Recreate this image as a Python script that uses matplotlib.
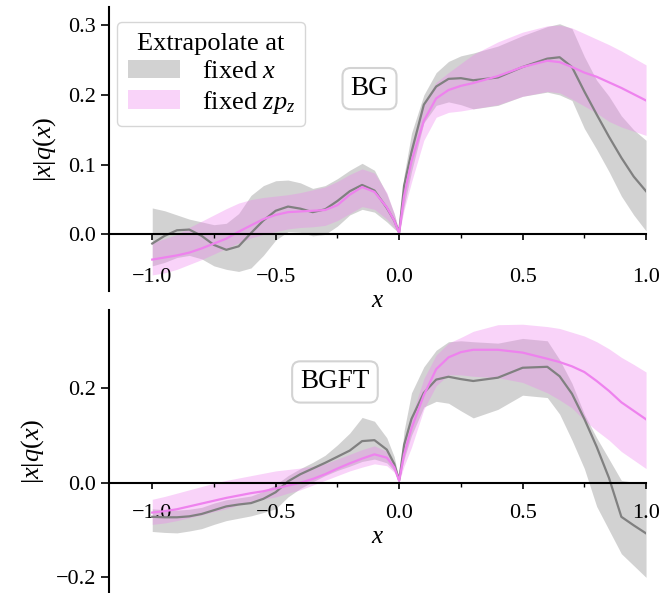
import matplotlib
matplotlib.use("Agg")
import matplotlib.pyplot as plt
from matplotlib.ticker import MultipleLocator

plt.rcParams["font.family"] = "serif"
plt.rcParams["font.serif"] = ["Liberation Serif", "DejaVu Serif"]
plt.rcParams["mathtext.fontset"] = "custom"
plt.rcParams["mathtext.rm"] = "Liberation Serif"
plt.rcParams["mathtext.it"] = "Liberation Serif:italic"
plt.rcParams["mathtext.bf"] = "Liberation Serif:bold"

x = [-1.0, -0.95, -0.9, -0.85, -0.8, -0.75, -0.7, -0.65, -0.6, -0.55,
     -0.5, -0.45, -0.4, -0.35, -0.3, -0.25, -0.2, -0.15, -0.1, -0.05,
     -0.02, 0.0, 0.02, 0.05, 0.1, 0.15, 0.2, 0.25, 0.3, 0.4,
     0.5, 0.6, 0.65, 0.7, 0.75, 0.8, 0.85, 0.9, 0.95, 1.0]

# BG, extrapolated at fixed x
bg_x_mid = [-0.013, -0.002, 0.006, 0.007, -0.002, -0.015, -0.022, -0.017, 0.002, 0.02,
            0.034, 0.040, 0.037, 0.032, 0.036, 0.048, 0.062, 0.071, 0.063, 0.038,
            0.02, 0.003, 0.07, 0.118, 0.186, 0.212, 0.223, 0.224, 0.221, 0.225,
            0.240, 0.252, 0.254, 0.24, 0.205, 0.172, 0.14, 0.11, 0.083, 0.062]
bg_x_hi = [0.038, 0.034, 0.028, 0.022, 0.018, 0.014, 0.016, 0.03, 0.056, 0.07,
           0.077, 0.078, 0.074, 0.066, 0.07, 0.08, 0.092, 0.102, 0.092, 0.058,
           0.03, 0.004, 0.085, 0.145, 0.2, 0.232, 0.248, 0.256, 0.26, 0.27,
           0.285, 0.298, 0.302, 0.295, 0.255, 0.221, 0.198, 0.17, 0.15, 0.135]
bg_x_lo = [-0.045, -0.04, -0.033, -0.03, -0.035, -0.045, -0.05, -0.053, -0.048, -0.03,
           -0.008, 0.004, 0.003, -0.002, 0.0, 0.012, 0.028, 0.036, 0.032, 0.018,
           0.008, 0.002, 0.04, 0.09, 0.16, 0.185, 0.19, 0.186, 0.18, 0.185,
           0.198, 0.204, 0.2, 0.192, 0.152, 0.122, 0.09, 0.055, 0.028, 0.005]

# BG, extrapolated at fixed z*pz
bg_z_mid = [-0.036, -0.033, -0.030, -0.026, -0.02, -0.013, -0.006, 0.004, 0.013, 0.022,
            0.028, 0.032, 0.033, 0.034, 0.035, 0.042, 0.057, 0.068, 0.061, 0.039,
            0.02, 0.002, 0.055, 0.105, 0.163, 0.195, 0.207, 0.213, 0.217, 0.227,
            0.24, 0.249, 0.247, 0.24, 0.232, 0.226, 0.218, 0.21, 0.201, 0.192]
bg_z_hi = [-0.012, -0.006, 0.0, 0.01, 0.019, 0.028, 0.037, 0.045, 0.05, 0.053,
           0.055, 0.057, 0.06, 0.064, 0.068, 0.076, 0.086, 0.094, 0.088, 0.06,
           0.03, 0.003, 0.075, 0.13, 0.19, 0.218, 0.232, 0.245, 0.258, 0.276,
           0.29, 0.299, 0.3, 0.296, 0.288, 0.28, 0.272, 0.263, 0.253, 0.243]
bg_z_lo = [-0.058, -0.055, -0.05, -0.043, -0.036, -0.028, -0.02, -0.012, -0.005, 0.0,
           0.004, 0.008, 0.01, 0.011, 0.013, 0.02, 0.03, 0.04, 0.036, 0.022,
           0.01, 0.001, 0.035, 0.075, 0.135, 0.168, 0.175, 0.177, 0.18, 0.186,
           0.198, 0.205, 0.203, 0.194, 0.184, 0.174, 0.162, 0.154, 0.148, 0.142]

# BGFT, extrapolated at fixed x
bgft_x_mid = [-0.072, -0.073, -0.073, -0.071, -0.066, -0.058, -0.05, -0.046, -0.043, -0.034,
              -0.02, 0.003, 0.018, 0.03, 0.042, 0.055, 0.068, 0.088, 0.09, 0.07,
              0.04, 0.005, 0.08, 0.135, 0.19, 0.218, 0.224, 0.219, 0.215, 0.222,
              0.243, 0.245, 0.225, 0.188, 0.135, 0.076, 0.01, -0.072, -0.09, -0.107]
bgft_x_hi = [-0.055, -0.057, -0.058, -0.056, -0.052, -0.043, -0.036, -0.032, -0.028, -0.018,
             -0.004, 0.015, 0.03, 0.043, 0.058, 0.08, 0.105, 0.138, 0.13, 0.095,
             0.055, 0.006, 0.11, 0.19, 0.245, 0.28, 0.298, 0.3, 0.298, 0.295,
             0.305, 0.3, 0.26, 0.21, 0.145, 0.095, 0.05, 0.005, 0.001, 0.0]
bgft_x_lo = [-0.103, -0.105, -0.106, -0.102, -0.097, -0.088, -0.08, -0.075, -0.07, -0.063,
             -0.055, -0.03, -0.012, 0.002, 0.015, 0.026, 0.035, 0.045, 0.05, 0.042,
             0.025, 0.004, 0.05, 0.1, 0.16, 0.172, 0.168, 0.152, 0.137, 0.155,
             0.185, 0.18, 0.145, 0.09, 0.03, -0.05, -0.1, -0.15, -0.175, -0.2]

# BGFT, extrapolated at fixed z*pz
bgft_z_mid = [-0.063, -0.06, -0.056, -0.05, -0.044, -0.038, -0.032, -0.027, -0.022, -0.018,
              -0.012, -0.006, 0.0, 0.008, 0.018, 0.03, 0.041, 0.051, 0.06, 0.053,
              0.033, 0.004, 0.06, 0.115, 0.185, 0.24, 0.265, 0.276, 0.281, 0.281,
              0.275, 0.262, 0.255, 0.246, 0.234, 0.215, 0.194, 0.17, 0.152, 0.134]
bgft_z_hi = [-0.035, -0.029, -0.022, -0.015, -0.008, -0.001, 0.005, 0.01, 0.015, 0.02,
             0.025, 0.028, 0.031, 0.035, 0.04, 0.05, 0.06, 0.07, 0.078, 0.066,
             0.04, 0.005, 0.09, 0.14, 0.22, 0.27, 0.295, 0.307, 0.32, 0.334,
             0.335, 0.33, 0.326, 0.318, 0.31, 0.298, 0.283, 0.265, 0.25, 0.234]
bgft_z_lo = [-0.088, -0.085, -0.08, -0.074, -0.068, -0.061, -0.055, -0.047, -0.04, -0.035,
             -0.03, -0.022, -0.015, -0.005, 0.005, 0.015, 0.025, 0.033, 0.04, 0.036,
             0.022, 0.003, 0.035, 0.075, 0.155, 0.205, 0.228, 0.228, 0.225, 0.222,
             0.212, 0.19, 0.175, 0.158, 0.132, 0.11, 0.09, 0.066, 0.048, 0.03]


def panel(ax, xm, xl, xh, zm, zl, zh, name, name_xy, ylim, yticks, pad):
    ax.fill_between(x, xl, xh, color="gray", alpha=0.35, lw=0, label="fixed $x$")
    ax.fill_between(x, zl, zh, color="violet", alpha=0.35, lw=0, label="fixed $zp_z$")
    ax.plot(x, xm, color="gray", lw=1.6)
    ax.plot(x, zm, color="violet", lw=1.6)

    ax.set_xlim(-1.175, 1.0)
    ax.set_ylim(*ylim)
    ax.set_yticks(yticks)
    ax.xaxis.set_major_locator(MultipleLocator(0.5))
    ax.xaxis.set_minor_locator(MultipleLocator(0.25))

    ax.spines["top"].set_visible(False)
    ax.spines["right"].set_visible(False)
    ax.spines["bottom"].set_position("zero")
    ax.spines["left"].set_linewidth(1.5)
    ax.spines["bottom"].set_linewidth(1.5)
    ax.tick_params(axis="x", which="major", length=4.5, width=1.2, labelsize=16, pad=pad)
    ax.tick_params(axis="x", which="minor", length=3, width=1.0)
    ax.tick_params(axis="y", length=6, width=1.2, labelsize=16)

    ax.set_xlabel("$x$", fontsize=18, labelpad=2)
    ax.set_ylabel("$|x|q(x)$", fontsize=19, labelpad=7)
    ax.text(name_xy[0], name_xy[1], name, fontsize=19.5, ha="center", va="center",
            bbox=dict(boxstyle="round,pad=0.3", fc="white", ec="lightgray", lw=1.5))


fig = plt.figure(figsize=(6.62, 5.93), dpi=100)
ax1 = fig.add_axes([0.1647, 0.5093, 0.8112, 0.4789])
ax2 = fig.add_axes([0.1647, 0.0, 0.8112, 0.4772])

panel(ax1, bg_x_mid, bg_x_lo, bg_x_hi, bg_z_mid, bg_z_lo, bg_z_hi,
      "BG", (-0.12, 0.209), (-0.081, 0.326), [0.0, 0.1, 0.2, 0.3], 20)
panel(ax2, bgft_x_mid, bgft_x_lo, bgft_x_hi, bgft_z_mid, bgft_z_lo, bgft_z_hi,
      "BGFT", (-0.26, 0.213), (-0.233, 0.365), [-0.2, 0.0, 0.2], 11)

ax1.legend(title="Extrapolate at", loc="upper left", bbox_to_anchor=(0.015, 0.947),
           borderaxespad=0, fontsize=19, title_fontsize=19, handlelength=2.0,
           labelspacing=0.2, borderpad=0.4, handletextpad=0.8)

fig.savefig("out.png", dpi=100)
